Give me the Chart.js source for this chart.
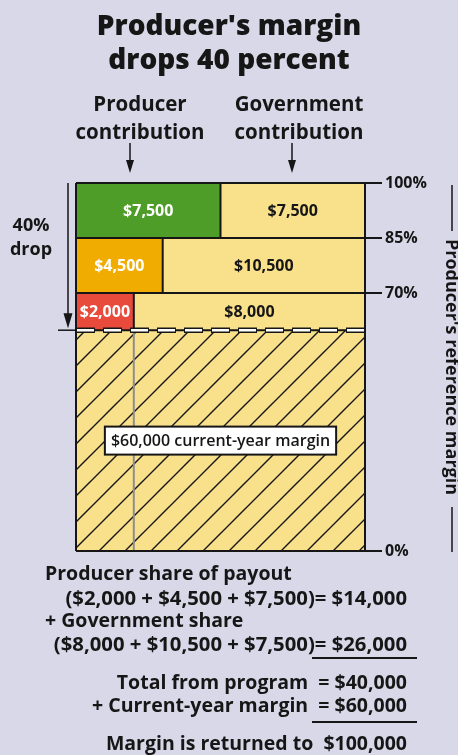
<!DOCTYPE html>
<html>
<head>
<meta charset="utf-8">
<title>Producer's margin drops 40 percent</title>
<script src="https://cdn.jsdelivr.net/npm/chart.js@4.4.1/dist/chart.umd.min.js"></script>
<style>
  html, body { margin: 0; padding: 0; background: #d9d8e8; }
  #wrap { position: relative; width: 458px; height: 755px; overflow: hidden;
          font-family: "Open Sans", Lato, sans-serif; color: #161616; }
  canvas { position: absolute; left: 0; top: 0; }
  .t { position: absolute; white-space: pre; }
  .title { left: 0; width: 458px; top: 7px; text-align: center; font-weight: 800;
           font-size: 28px; line-height: 34px; }
  .head { top: 89px; width: 200px; text-align: center; font-weight: 700;
          font-size: 20.5px; line-height: 28px; }
  .eq { font-weight: 700; font-size: 19.5px; line-height: 22px; }
  .sum { font-size: 20.3px; }
  .r { right: 51px; text-align: right; }
  .rule { position: absolute; left: 312px; width: 105px; height: 2px; background: #161616; }
</style>
</head>
<body>
<div id="wrap">
  <canvas id="chart" width="458" height="755"></canvas>
  <div class="t title">Producer's margin
drops 40 percent</div>
  <div class="t head" style="left:40px">Producer
contribution</div>
  <div class="t head" style="left:199px">Government
contribution</div>

  <div class="t eq" style="left:45px; top:562px">Producer share of payout</div>
  <div class="t eq sum r" style="top:586px">($2,000 + $4,500 + $7,500)= $14,000</div>
  <div class="t eq" style="left:45px; top:609px">+ Government share</div>
  <div class="t eq sum r" style="top:632px">($8,000 + $10,500 + $7,500)= $26,000</div>
  <div class="rule" style="top:657px"></div>
  <div class="t eq r" style="top:671px">Total from program  = $40,000</div>
  <div class="t eq r" style="top:694px">+ Current-year margin  = $60,000</div>
  <div class="rule" style="top:721px"></div>
  <div class="t eq r" style="top:732px">Margin is returned to  $100,000</div>
</div>

<script>
// Margin stabilization example: reference margin $100,000, this year's
// margin $60,000, and the three payout bands that bring it back.
const referenceMargin = 100000;
const currentMargin = 60000;
const producerPay   = [7500, 4500, 2000];    // 85-100%, 70-85%, below 70%
const governmentPay = [7500, 10500, 8000];
const tickValues = [0, 70, 85, 100];          // right axis, % of reference

const INK = "#161616";
const YELLOW = "#f9e08b";
const BAND_COLORS = ["#4f9d29", "#f0ac00", "#e84b3c"];
const FONT = "'Open Sans', Lato, sans-serif";

// Each band is (producer + government) / reference tall; the producer part
// sits on the left at its share of the band.
const bands = [];
let level = 100;
producerPay.forEach((p, i) => {
  const g = governmentPay[i];
  const bottom = level - (p + g) / referenceMargin * 100;
  bands.push({ top: level, bottom, split: p / (p + g) * 100, p, g, color: BAND_COLORS[i] });
  level = bottom;
});
const marginPct = currentMargin / referenceMargin * 100;
const money = (v) => "$" + v.toLocaleString("en-US");

function hatchPattern() {
  const s = 26;
  const c = document.createElement("canvas");
  c.width = s; c.height = s;
  const g = c.getContext("2d");
  g.fillStyle = YELLOW;
  g.fillRect(0, 0, s, s);
  g.strokeStyle = INK;
  g.lineWidth = 1.4;
  g.beginPath();
  g.moveTo(-2, s + 2); g.lineTo(s + 2, -2);
  g.moveTo(-2, 2); g.lineTo(2, -2);
  g.moveTo(s - 2, s + 2); g.lineTo(s + 2, s - 2);
  g.stroke();
  return g.createPattern(c, "repeat");
}

const seg = (x0, y0, x1, y1) => [{ x: x0, y: y0 }, { x: x1, y: y1 }];

const datasets = [];
datasets.push({ data: seg(0, marginPct, 100, marginPct), fill: { value: 0 },
                backgroundColor: hatchPattern(), borderWidth: 0, order: 10 });
bands.forEach((b) => {
  datasets.push({ data: seg(0, b.top, b.split, b.top), fill: { value: b.bottom },
                  backgroundColor: b.color, borderWidth: 0, order: 9 });
  datasets.push({ data: seg(b.split, b.top, 100, b.top), fill: { value: b.bottom },
                  backgroundColor: YELLOW, borderWidth: 0, order: 9 });
  datasets.push({ data: seg(b.split, b.bottom, b.split, b.top),
                  borderColor: INK, borderWidth: 2, order: 5 });
});
// grey guide carrying the last split down through the current-year margin
const last = bands[bands.length - 1];
datasets.push({ data: seg(last.split, 0, last.split, marginPct),
                borderColor: "#8e8e8e", borderWidth: 2, order: 5 });
// current-year margin line: thin black rule with outlined white dashes
const marginLine = seg(0, marginPct, 100, marginPct);
datasets.push({ data: marginLine, borderColor: INK, borderWidth: 2, order: 3 });
datasets.push({ data: marginLine, borderColor: INK, borderWidth: 5.5, borderDash: [19, 8], order: 2 });
datasets.push({ data: marginLine, borderColor: "#ffffff", borderWidth: 2.6,
                borderDash: [17, 10], borderDashOffset: -1, order: 1 });

function arrowDown(ctx, x, y0, y1, hw, hh) {
  ctx.beginPath();
  ctx.moveTo(x, y0); ctx.lineTo(x, y1 - hh + 1);
  ctx.stroke();
  ctx.beginPath();
  ctx.moveTo(x - hw, y1 - hh); ctx.lineTo(x + hw, y1 - hh); ctx.lineTo(x, y1);
  ctx.closePath(); ctx.fill();
}

const annotations = {
  id: "annotations",
  afterDraw(chart) {
    const { ctx, chartArea: area, scales: { x, y } } = chart;
    ctx.save();
    ctx.fillStyle = INK; ctx.strokeStyle = INK; ctx.lineWidth = 1.5;

    // band values
    ctx.font = `bold 16px ${FONT}`;
    ctx.textAlign = "center"; ctx.textBaseline = "middle";
    bands.forEach((b) => {
      const cy = (y.getPixelForValue(b.top) + y.getPixelForValue(b.bottom)) / 2;
      ctx.fillStyle = "#ffffff";
      ctx.fillText(money(b.p), (x.getPixelForValue(0) + x.getPixelForValue(b.split)) / 2, cy + 1);
      ctx.fillStyle = INK;
      ctx.fillText(money(b.g), (x.getPixelForValue(b.split) + x.getPixelForValue(100)) / 2, cy + 1);
    });

    // current-year margin label
    ctx.font = `600 16px ${FONT}`;
    const label = money(currentMargin) + " current-year margin";
    const lx = x.getPixelForValue(50), ly = y.getPixelForValue(marginPct / 2);
    const lw = ctx.measureText(label).width + 12;
    ctx.fillStyle = "#ffffff";
    ctx.fillRect(lx - lw / 2, ly - 14, lw, 28);
    ctx.lineWidth = 2;
    ctx.strokeRect(lx - lw / 2, ly - 14, lw, 28);
    ctx.fillStyle = INK;
    ctx.fillText(label, lx, ly + 1);

    // 40% drop arrow
    const y60 = y.getPixelForValue(marginPct);
    ctx.lineWidth = 1.5;
    arrowDown(ctx, area.left - 8, area.top, y60 - 2, 4.5, 15);
    ctx.beginPath();
    ctx.moveTo(area.left - 18, y60); ctx.lineTo(area.left, y60);
    ctx.stroke();
    ctx.font = `bold 18px ${FONT}`;
    const dy = area.top + (y60 - area.top) * 0.37;
    ctx.fillText("40%", 31, dy - 12);
    ctx.fillText("drop", 31, dy + 12);

    // header arrows
    arrowDown(ctx, 130, 143, 173, 4, 13);
    arrowDown(ctx, 292, 143, 173, 4, 13);

    // rotated axis title with its rules
    const title = "Producer's reference margin";
    ctx.font = `bold 18px ${FONT}`;
    const tw = ctx.measureText(title).width;
    const cx = 451, cyT = (area.top + area.bottom) / 2;
    ctx.save();
    ctx.translate(cx, cyT);
    ctx.rotate(Math.PI / 2);
    ctx.fillText(title, 0, 0);
    ctx.restore();
    ctx.lineWidth = 1.5;
    ctx.beginPath();
    ctx.moveTo(cx + 1, area.top + 2); ctx.lineTo(cx + 1, cyT - tw / 2 - 8);
    ctx.moveTo(cx + 1, cyT + tw / 2 + 12); ctx.lineTo(cx + 1, area.bottom + 1);
    ctx.stroke();
    ctx.restore();
  },
};

new Chart(document.getElementById("chart"), {
  type: "line",
  data: { datasets },
  plugins: [annotations],
  options: {
    responsive: false,
    animation: false,
    events: [],
    layout: { padding: { left: 76, top: 183, right: 0, bottom: 204 } },
    elements: { point: { radius: 0 }, line: { tension: 0 } },
    plugins: { legend: { display: false }, tooltip: { enabled: false } },
    scales: {
      x: {
        type: "linear", min: 0, max: 100,
        afterBuildTicks: (s) => { s.ticks = [{ value: 0 }, { value: 100 }]; },
        afterFit: (s) => { s.height = 0; },
        ticks: { display: false },
        grid: { color: INK, lineWidth: 2, drawTicks: false, z: 1 },
        border: { display: false },
      },
      y: {
        type: "linear", position: "right", min: 0, max: 100,
        afterBuildTicks: (s) => { s.ticks = tickValues.map((v) => ({ value: v })); },
        afterFit: (s) => { s.width = 93; },
        ticks: { callback: (v) => v + "%", color: INK, padding: 3, z: 1,
                 font: { family: FONT, size: 16, weight: "bold" } },
        grid: { color: INK, lineWidth: 2, tickLength: 17, z: 1 },
        border: { display: true, color: INK, width: 2, z: 1 },
      },
    },
  },
});
</script>
</body>
</html>
